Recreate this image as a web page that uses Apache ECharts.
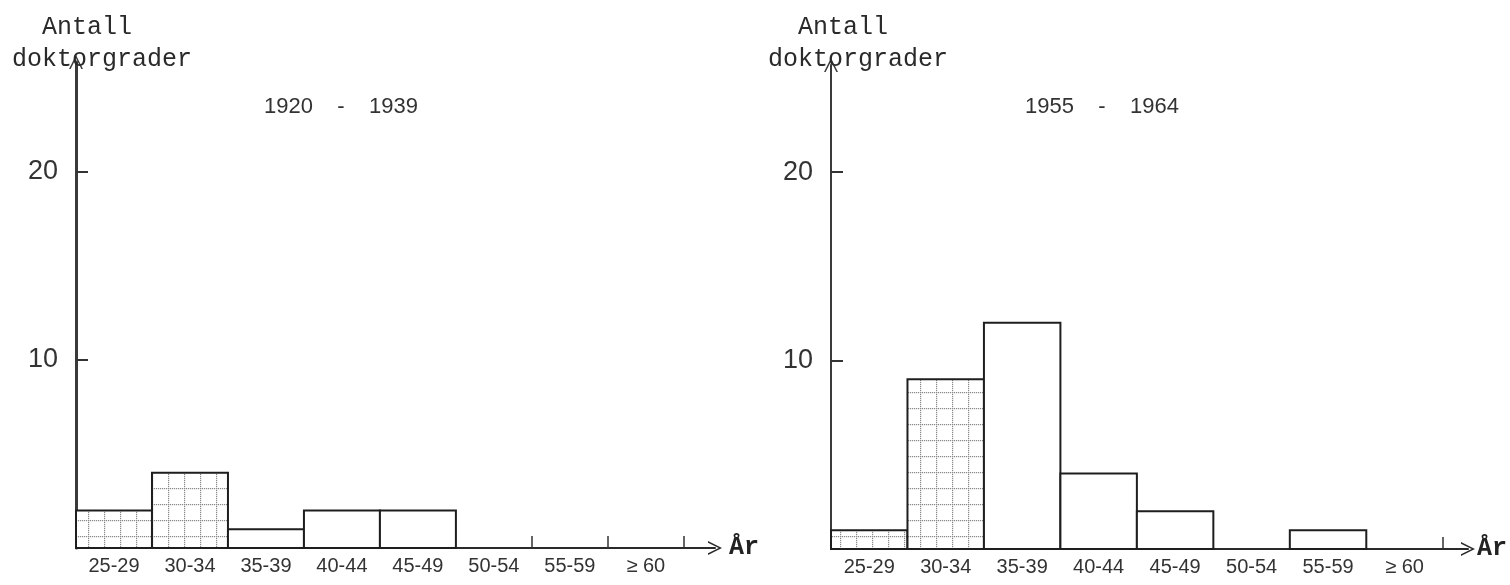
<!DOCTYPE html>
<html>
<head>
<meta charset="utf-8">
<script src="https://cdn.jsdelivr.net/npm/echarts@6/dist/echarts.min.js"></script>
<style>
html,body{margin:0;padding:0;background:#fff;}
#chart{width:1510px;height:585px;}
</style>
</head>
<body>
<div id="chart"></div>
<script>
// ---- data ----
const categories = ['25-29', '30-34', '35-39', '40-44', '45-49', '50-54', '55-59', '≥ 60'];
const values1920 = [2, 4, 1, 2, 2, 0, 0, 0];
const values1955 = [1, 9, 12, 4, 2, 0, 1, 0];
const hatchedCategories = ['25-29', '30-34'];
const yTickValues = [10, 20];
const periodLeft = '1920    -    1939';
const periodRight = '1955    -    1964';
const yName = '  Antall\ndoktorgrader';
const xName = 'År';

// ---- hatch pattern ----
function makePattern() {
  const c = document.createElement('canvas');
  c.width = 16; c.height = 16;
  const g = c.getContext('2d');
  g.fillStyle = '#ffffff'; g.fillRect(0, 0, 16, 16);
  g.fillStyle = '#8a8a8a';
  for (let k = 0; k < 16; k += 2) { g.fillRect(k, 8, 1.2, 1.2); g.fillRect(8, k, 1.2, 1.2); }
  return { image: c, repeat: 'repeat' };
}
const pattern = makePattern();

function renderItem(params, api) {
  const i = api.value(0), v = api.value(1);
  if (!v) return null;
  const p0 = api.coord([i, 0]);
  const p1 = api.coord([i + 1, v]);
  const hatched = hatchedCategories.indexOf(categories[i]) >= 0;
  return {
    type: 'rect',
    shape: { x: p0[0], y: p1[1], width: p1[0] - p0[0], height: p0[1] - p1[1] },
    style: { fill: hatched ? pattern : '#ffffff', stroke: '#1e1e1e', lineWidth: 2 }
  };
}

const chevron = 'path://M0,12 L6,0 L12,12 L10.6,12 L6,2.8 L1.4,12 Z';
const labelCenters = categories.map((c, i) => i + 0.5);

function xAxisFor(gridIndex, max, tickVals, nameGap) {
  return {
    type: 'value', gridIndex, min: 0, max,
    splitLine: { show: false },
    axisLine: { show: true, lineStyle: { color: '#2a2a2a', width: 2 },
      symbol: ['none', chevron], symbolSize: [16, 14] },
    axisTick: { show: true, inside: true, length: 12, customValues: tickVals,
      lineStyle: { color: '#333', width: 1.5 } },
    axisLabel: { customValues: labelCenters, margin: 8, color: '#333', fontSize: 20,
      fontFamily: 'Liberation Sans, Arial, sans-serif',
      formatter: v => categories[Math.round(v - 0.5)] || '' },
    name: xName, nameLocation: 'end', nameGap,
    nameTextStyle: { fontFamily: 'Liberation Mono, DejaVu Sans Mono, monospace',
      fontSize: 25, fontWeight: 'bold', color: '#222', verticalAlign: 'middle' }
  };
}
function yAxisFor(gridIndex, max, lw) {
  return {
    type: 'value', gridIndex, min: 0, max, interval: 10,
    splitLine: { show: false },
    axisLine: { show: true, onZero: false, lineStyle: { color: '#3a3a3a', width: lw },
      symbol: ['none', chevron], symbolSize: [16, 14] },
    axisTick: { show: true, inside: true, length: 12, customValues: yTickValues,
      lineStyle: { color: '#333', width: 2 } },
    axisLabel: { customValues: yTickValues, margin: 18, color: '#333', fontSize: 27,
      fontFamily: 'Liberation Sans, Arial, sans-serif' }
  };
}

const chart = echarts.init(document.getElementById('chart'), null, { renderer: 'canvas' });
chart.setOption({
  animation: false,
  backgroundColor: '#ffffff',
  title: [
    { text: yName, left: 7, top: 6, textStyle: { fontFamily: 'Liberation Mono, DejaVu Sans Mono, monospace',
      fontSize: 25, fontWeight: 'normal', color: '#2a2a2a', lineHeight: 32 } },
    { text: yName, left: 763, top: 6, textStyle: { fontFamily: 'Liberation Mono, DejaVu Sans Mono, monospace',
      fontSize: 25, fontWeight: 'normal', color: '#2a2a2a', lineHeight: 32 } },
    { text: periodLeft, left: 336, top: 91, textAlign: 'center', textStyle: { fontFamily: 'Liberation Sans, Arial, sans-serif',
      fontSize: 22, fontWeight: 'normal', color: '#333' } },
    { text: periodRight, left: 1097, top: 91, textAlign: 'center', textStyle: { fontFamily: 'Liberation Sans, Arial, sans-serif',
      fontSize: 22, fontWeight: 'normal', color: '#333' } }
  ],
  grid: [
    { left: 76, top: 62, width: 639, height: 486 },
    { left: 831, top: 65, width: 639, height: 484 }
  ],
  xAxis: [
    xAxisFor(0, 8.41, [6, 7, 8], 14),
    xAxisFor(1, 8.33, [8], 9)
  ],
  yAxis: [
    yAxisFor(0, 25.85, 3),
    yAxisFor(1, 25.68, 2)
  ],
  series: [
    { type: 'custom', xAxisIndex: 0, yAxisIndex: 0, renderItem,
      encode: { x: 0, y: 1 }, data: values1920.map((v, i) => [i, v]) },
    { type: 'custom', xAxisIndex: 1, yAxisIndex: 1, renderItem,
      encode: { x: 0, y: 1 }, data: values1955.map((v, i) => [i, v]) }
  ]
});
</script>
</body>
</html>
